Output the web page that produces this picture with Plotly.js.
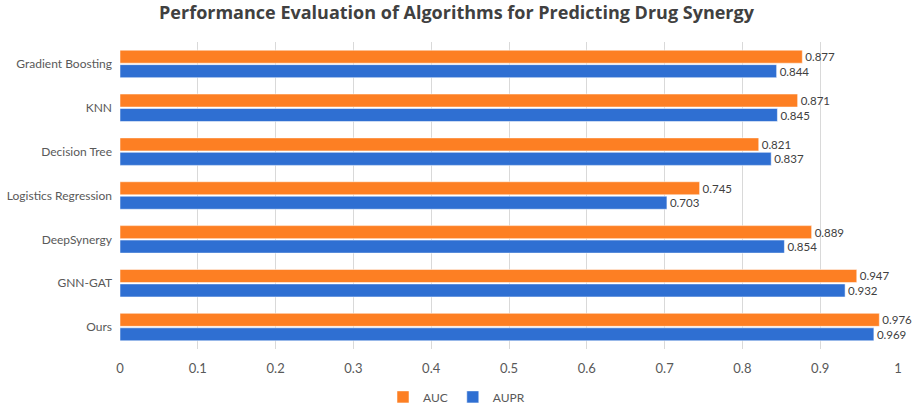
<!DOCTYPE html>
<html>
<head>
<meta charset="utf-8">
<script src="https://cdn.plot.ly/plotly-3.0.1.min.js"></script>
<style>
  html, body { margin: 0; padding: 0; background: #fff; }
  #chart { width: 913px; height: 405px; }
</style>
</head>
<body>
<div id="chart"></div>
<script>
// Top-to-bottom order as shown in the figure
const ALGORITHMS = [
  "Gradient Boosting", "KNN", "Decision Tree", "Logistics Regression",
  "DeepSynergy", "GNN-GAT", "Ours",
];
const AUC  = [0.877, 0.871, 0.821, 0.745, 0.889, 0.947, 0.976];
const AUPR = [0.844, 0.845, 0.837, 0.703, 0.854, 0.932, 0.969];
const X_TICKS = [0, 0.1, 0.2, 0.3, 0.4, 0.5, 0.6, 0.7, 0.8, 0.9, 1];
const X_TICK_TEXT = ["0", "0.1", "0.2", "0.3", "0.4", "0.5", "0.6", "0.7", "0.8", "0.9", "1"];

const ORANGE = "#fd7f23";
const BLUE   = "#2f6fd2";
const TEXT   = "#404040";
const FONT   = "Lato, sans-serif";

function barTrace(name, values, color) {
  return {
    type: "bar",
    orientation: "h",
    name,
    x: values,
    y: ALGORITHMS,
    marker: { color, line: { color: "rgba(255,255,255,0.5)", width: 1 } },
    text: values.map(v => v.toFixed(3)),
    textposition: "outside",
    constraintext: "none",
    textfont: { family: FONT, size: 11.5, color: TEXT },
    cliponaxis: false,
    hoverinfo: "x+name",
  };
}

const data = [
  barTrace("AUC", AUC, ORANGE),
  barTrace("AUPR", AUPR, BLUE),
];

const layout = {
  width: 913,
  height: 405,
  paper_bgcolor: "#ffffff",
  plot_bgcolor: "#ffffff",
  font: { family: FONT, color: "#595959", size: 12 },
  margin: { l: 120, r: 15, t: 42, b: 56 },
  title: {
    text: "<b>Performance Evaluation of Algorithms for Predicting Drug Synergy</b>",
    font: { family: "Open Sans, sans-serif", size: 18, color: TEXT },
    x: 0.5, xanchor: "center",
    y: 0.985, yanchor: "top",
  },
  barmode: "group",
  bargap: 0.34,
  bargroupgap: 0.1,
  xaxis: {
    range: [0, 1],
    tickvals: X_TICKS,
    ticktext: X_TICK_TEXT,
    showgrid: true,
    gridcolor: "#d9d9d9",
    zeroline: false,
    showline: false,
    ticks: "",
    ticklen: 0,
    ticklabelstandoff: 10,
    tickfont: { size: 13, color: "#595959" },
  },
  yaxis: {
    autorange: "reversed",
    showgrid: false,
    zeroline: false,
    showline: false,
    ticks: "",
    ticklabelstandoff: 7,
    tickfont: { size: 12, color: "#595959" },
  },
  showlegend: true,
  legend: {
    orientation: "h",
    xref: "container",
    yref: "container",
    x: 0.5, xanchor: "center",
    y: 0.02, yanchor: "middle",
    font: { size: 12, color: "#595959" },
    itemwidth: 30,
    tracegroupgap: 0,
  },
};

Plotly.newPlot("chart", data, layout, { displayModeBar: false, staticPlot: true });
</script>
</body>
</html>
